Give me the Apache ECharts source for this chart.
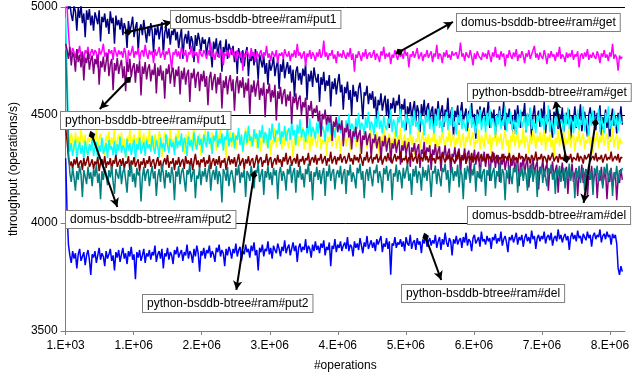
<!DOCTYPE html>
<html>
<head>
<meta charset="utf-8">
<script src="https://cdn.jsdelivr.net/npm/echarts@6/dist/echarts.min.js"></script>
<style>
    html, body {margin: 0; padding: 0; background: #fff;}
    #chart {width: 632px; height: 379px;}
</style>
</head>
<body>
<div id="chart"></div>
<script>
// one sample every 20500 operations, starting at 1000
var opsStart = 1000;
var opsStep = 20500;

var domusPut1 = [
    5100, 5040, 4990, 5020, 4965, 4935, 5005, 4980, 4890, 4995, 4950, 5010, 4925, 4970, 4860, 4985, 4940, 4990, 4915, 4960,
    4890, 4975, 4950, 4920, 4985, 4840, 4955, 4930, 4970, 4905, 4945, 4875, 4980, 4925, 4950, 4830, 4960, 4915, 4940, 4895,
    4950, 4870, 4925, 4900, 4810, 4935, 4885, 4915, 4955, 4860, 4905, 4930, 4795, 4895, 4920, 4870, 4940, 4885, 4835, 4910,
    4865, 4925, 4890, 4790, 4905, 4870, 4915, 4850, 4895, 4930, 4780, 4880, 4910, 4855, 4900, 4825, 4890, 4870, 4920, 4845,
    4885, 4810, 4860, 4900, 4760, 4850, 4875, 4830, 4890, 4805, 4865, 4840, 4745, 4870, 4820, 4880, 4845, 4795, 4860, 4830,
    4850, 4775, 4830, 4860, 4790, 4720, 4840, 4805, 4855, 4770, 4825, 4845, 4700, 4815, 4790, 4850, 4760, 4830, 4805, 4780,
    4820, 4745, 4795, 4690, 4810, 4770, 4740, 4800, 4725, 4785, 4815, 4680, 4775, 4750, 4790, 4730, 4805, 4760, 4665, 4780,
    4750, 4720, 4775, 4690, 4740, 4640, 4755, 4705, 4730, 4770, 4680, 4725, 4750, 4620, 4735, 4700, 4760, 4670, 4715, 4745,
    4690, 4730, 4650, 4710, 4585, 4700, 4725, 4660, 4695, 4640, 4715, 4680, 4735, 4570, 4690, 4655, 4705, 4630, 4720, 4675,
    4650, 4690, 4560, 4675, 4640, 4700, 4610, 4660, 4635, 4685, 4540, 4655, 4620, 4670, 4595, 4650, 4690, 4605, 4640, 4525,
    4630, 4600, 4655, 4570, 4615, 4500, 4640, 4585, 4610, 4560, 4625, 4650, 4575, 4480, 4605, 4590, 4635, 4550, 4600, 4570,
    4610, 4530, 4585, 4470, 4570, 4545, 4600, 4520, 4560, 4590, 4500, 4575, 4440, 4555, 4530, 4580, 4510, 4565, 4545, 4595,
    4490, 4550, 4525, 4575, 4430, 4540, 4505, 4560, 4485, 4530, 4565, 4470, 4545, 4515, 4420, 4550, 4500, 4570, 4480, 4535,
    4555, 4460, 4520, 4540, 4410, 4530, 4495, 4565, 4475, 4515, 4545, 4445, 4525, 4500, 4580, 4465, 4510, 4535, 4400, 4520,
    4490, 4545, 4455, 4515, 4560, 4470, 4500, 4530, 4425, 4520, 4485, 4555, 4460, 4505, 4390, 4525, 4480, 4540, 4465, 4510,
    4535, 4450, 4500, 4570, 4440, 4515, 4480, 4525, 4395, 4505, 4470, 4540, 4455, 4490, 4560, 4430, 4510, 4475, 4530, 4460,
    4500, 4410, 4525, 4465, 4545, 4480, 4440, 4515, 4495, 4555, 4420, 4505, 4470, 4530, 4385, 4500, 4545, 4460, 4490, 4520,
    4445, 4530, 4480, 4560, 4415, 4500, 4470, 4525, 4450, 4395, 4515, 4485, 4545, 4435, 4505, 4465, 4535, 4420, 4490, 4510,
    4460, 4525, 4380, 4495, 4470, 4540, 4440, 4505, 4480, 4550, 4425, 4490, 4515, 4455, 4400, 4500, 4535, 4465, 4485, 4520,
    4430, 4510, 4475, 4545, 4405, 4490, 4460, 4525, 4440, 4500, 4375, 4485, 4530, 4450, 4495, 4415, 4510, 4470, 4540, 4455
];
var domusGet = [
    5080, 5000, 4880, 4800, 4780, 4810, 4790, 4765, 4805, 4785, 4820, 4770, 4795, 4745, 4800, 4785, 4815, 4760, 4790, 4805,
    4775, 4800, 4790, 4720, 4810, 4780, 4795, 4830, 4770, 4790, 4760, 4805, 4785, 4800, 4755, 4815, 4790, 4770, 4800, 4780,
    4795, 4765, 4810, 4785, 4700, 4800, 4775, 4790, 4820, 4765, 4795, 4780, 4810, 4750, 4790, 4800, 4770, 4825, 4785, 4760,
    4800, 4780, 4795, 4740, 4805, 4775, 4790, 4815, 4765, 4785, 4800, 4755, 4795, 4780, 4810, 4770, 4710, 4790, 4780, 4805,
    4770, 4795, 4760, 4815, 4785, 4775, 4800, 4745, 4790, 4780, 4820, 4765, 4795, 4775, 4790, 4740, 4805, 4780, 4770, 4800,
    4785, 4760, 4800, 4775, 4835, 4770, 4790, 4755, 4795, 4780, 4765, 4805, 4790, 4730, 4785, 4775, 4800, 4765, 4790, 4810,
    4775, 4790, 4750, 4800, 4780, 4765, 4795, 4705, 4785, 4770, 4800, 4780, 4760, 4810, 4775, 4790, 4745, 4795, 4770, 4785,
    4800, 4760, 4790, 4775, 4820, 4765, 4785, 4750, 4795, 4780, 4770, 4800, 4740, 4785, 4775, 4790, 4760, 4805, 4780, 4770,
    4795, 4750, 4785, 4770, 4800, 4765, 4830, 4775, 4790, 4760, 4780, 4795, 4725, 4785, 4770, 4800, 4760, 4790, 4775, 4750,
    4790, 4770, 4805, 4765, 4780, 4845, 4770, 4790, 4755, 4785, 4775, 4800, 4760, 4780, 4740, 4795, 4770, 4785, 4765, 4800,
    4775, 4760, 4790, 4770, 4810, 4755, 4785, 4700, 4780, 4765, 4795, 4775, 4750, 4790, 4770, 4805, 4760, 4780, 4790, 4765,
    4780, 4800, 4755, 4785, 4770, 4745, 4795, 4775, 4815, 4760, 4785, 4770, 4790, 4735, 4780, 4765, 4800, 4775, 4755, 4790,
    4770, 4785, 4760, 4805, 4775, 4790, 4720, 4780, 4770, 4795, 4765, 4785, 4810, 4760, 4775, 4790, 4750, 4780, 4770, 4800,
    4765, 4780, 4795, 4745, 4785, 4770, 4825, 4760, 4785, 4775, 4740, 4790, 4770, 4800, 4765, 4780, 4755, 4795, 4775, 4770,
    4790, 4760, 4780, 4835, 4770, 4785, 4750, 4790, 4775, 4765, 4800, 4770, 4730, 4785, 4760, 4795, 4775, 4780, 4755, 4790,
    4770, 4785, 4760, 4800, 4775, 4745, 4790, 4770, 4815, 4765, 4780, 4755, 4795, 4770, 4785, 4725, 4780, 4765, 4800, 4775,
    4760, 4790, 4770, 4805, 4750, 4780, 4765, 4795, 4775, 4740, 4785, 4770, 4800, 4760, 4780, 4775, 4820, 4765, 4785, 4755,
    4790, 4770, 4760, 4800, 4775, 4735, 4785, 4765, 4795, 4770, 4780, 4750, 4790, 4770, 4815, 4760, 4780, 4770, 4745, 4790,
    4765, 4785, 4770, 4800, 4755, 4780, 4770, 4795, 4720, 4775, 4785, 4760, 4790, 4770, 4805, 4755, 4780, 4765, 4790, 4770,
    4760, 4795, 4775, 4740, 4785, 4770, 4800, 4765, 4780, 4750, 4790, 4770, 4830, 4760, 4780, 4765, 4705, 4775, 4760, 4770
];
var domusPut2 = [
    4480, 4450, 4400, 4360, 4415, 4385, 4335, 4420, 4370, 4400, 4345, 4430, 4390, 4360, 4410, 4320, 4395, 4375, 4425, 4350,
    4400, 4370, 4435, 4340, 4390, 4415, 4355, 4380, 4310, 4405, 4375, 4425, 4350, 4395, 4365, 4440, 4335, 4385, 4410, 4360,
    4420, 4345, 4390, 4300, 4400, 4375, 4430, 4355, 4385, 4410, 4340, 4395, 4365, 4445, 4350, 4380, 4415, 4325, 4400, 4370,
    4435, 4360, 4390, 4340, 4410, 4380, 4350, 4425, 4395, 4305, 4385, 4420, 4365, 4400, 4345, 4430, 4375, 4390, 4335, 4415,
    4370, 4440, 4355, 4395, 4380, 4320, 4410, 4365, 4425, 4385, 4350, 4400, 4440, 4340, 4390, 4370, 4415, 4310, 4395, 4375,
    4430, 4360, 4385, 4405, 4345, 4420, 4375, 4395, 4335, 4410, 4365, 4445, 4355, 4390, 4380, 4300, 4405, 4370, 4425, 4350,
    4395, 4415, 4340, 4385, 4430, 4365, 4400, 4325, 4390, 4440, 4360, 4380, 4410, 4350, 4395, 4375, 4435, 4345, 4385, 4405,
    4330, 4400, 4370, 4425, 4355, 4390, 4415, 4315, 4385, 4365, 4440, 4350, 4395, 4380, 4420, 4340, 4400, 4360, 4430, 4375,
    4345, 4410, 4385, 4305, 4395, 4365, 4425, 4355, 4400, 4380, 4445, 4340, 4390, 4370, 4415, 4330, 4405, 4360, 4435, 4385,
    4350, 4395, 4420, 4340, 4385, 4365, 4430, 4310, 4400, 4375, 4415, 4355, 4390, 4440, 4345, 4380, 4405, 4325, 4395, 4370,
    4425, 4355, 4390, 4410, 4335, 4400, 4370, 4445, 4350, 4385, 4415, 4320, 4395, 4365, 4430, 4375, 4345, 4405, 4380, 4435,
    4340, 4390, 4360, 4420, 4385, 4305, 4400, 4370, 4440, 4355, 4395, 4380, 4415, 4345, 4390, 4365, 4425, 4335, 4405, 4375,
    4440, 4350, 4385, 4410, 4330, 4395, 4370, 4430, 4360, 4400, 4315, 4390, 4375, 4445, 4345, 4385, 4420, 4355, 4400, 4365,
    4410, 4340, 4395, 4380, 4435, 4350, 4390, 4320, 4405, 4370, 4425, 4385, 4345, 4400, 4375, 4440, 4355, 4390, 4410, 4330,
    4395, 4365, 4430, 4350, 4385, 4415, 4305, 4400, 4375, 4440, 4360, 4390, 4420, 4345, 4385, 4370, 4435, 4340, 4405, 4380,
    4350, 4425, 4390, 4365, 4410, 4325, 4395, 4380, 4445, 4355, 4400, 4370, 4415, 4340, 4390, 4430, 4360, 4385, 4310, 4405,
    4375, 4435, 4355, 4395, 4420, 4345, 4385, 4370, 4440, 4350, 4400, 4380, 4325, 4410, 4365, 4430, 4390, 4345, 4405, 4375,
    4420, 4360, 4390, 4440, 4335, 4400, 4375, 4415, 4350, 4385, 4305, 4395, 4370, 4435, 4355, 4400, 4380, 4425, 4345, 4390,
    4365, 4445, 4350, 4395, 4410, 4330, 4400, 4375, 4430, 4360, 4390, 4415, 4340, 4385, 4370, 4440, 4355, 4400, 4320, 4395,
    4380, 4425, 4345, 4405, 4370, 4435, 4360, 4390, 4415, 4335, 4400, 4375, 4445, 4350, 4390, 4410, 4340, 4395, 4365, 4380
];
var domusDel = [
    4950, 4700, 4420, 4330, 4370, 4310, 4355, 4385, 4300, 4345, 4375, 4320, 4360, 4290, 4380, 4340, 4315, 4365, 4335, 4390,
    4310, 4350, 4375, 4285, 4360, 4330, 4395, 4320, 4345, 4370, 4300, 4385, 4340, 4355, 4315, 4380, 4295, 4365, 4335, 4400,
    4325, 4360, 4345, 4305, 4390, 4335, 4370, 4315, 4355, 4385, 4290, 4365, 4340, 4395, 4320, 4350, 4375, 4310, 4385, 4345,
    4365, 4330, 4405, 4350, 4320, 4385, 4355, 4300, 4395, 4345, 4370, 4330, 4410, 4360, 4325, 4390, 4350, 4375, 4315, 4400,
    4345, 4380, 4360, 4415, 4330, 4395, 4370, 4310, 4400, 4355, 4385, 4335, 4420, 4365, 4340, 4405, 4360, 4390, 4325, 4410,
    4375, 4350, 4425, 4365, 4395, 4320, 4405, 4380, 4430, 4350, 4390, 4370, 4415, 4335, 4400, 4385, 4440, 4355, 4395, 4375,
    4420, 4345, 4405, 4385, 4440, 4360, 4410, 4330, 4395, 4425, 4370, 4450, 4380, 4400, 4355, 4435, 4390, 4415, 4345, 4430,
    4395, 4455, 4370, 4420, 4405, 4345, 4440, 4385, 4460, 4400, 4375, 4430, 4410, 4465, 4365, 4425, 4395, 4450, 4380, 4420,
    4440, 4385, 4470, 4405, 4430, 4360, 4455, 4415, 4480, 4395, 4435, 4420, 4375, 4460, 4410, 4485, 4400, 4445, 4425, 4390,
    4465, 4415, 4490, 4405, 4450, 4430, 4375, 4470, 4420, 4495, 4410, 4455, 4435, 4395, 4480, 4425, 4500, 4415, 4460, 4440,
    4400, 4475, 4430, 4505, 4420, 4460, 4445, 4390, 4485, 4435, 4510, 4425, 4465, 4450, 4410, 4490, 4440, 4515, 4430, 4470,
    4455, 4405, 4495, 4445, 4520, 4435, 4475, 4415, 4500, 4450, 4430, 4485, 4460, 4525, 4420, 4480, 4455, 4400, 4490, 4465,
    4530, 4440, 4475, 4425, 4505, 4460, 4485, 4410, 4495, 4450, 4520, 4445, 4470, 4430, 4510, 4455, 4480, 4405, 4500, 4465,
    4525, 4435, 4490, 4460, 4415, 4505, 4450, 4530, 4440, 4475, 4420, 4495, 4465, 4515, 4430, 4485, 4455, 4535, 4445, 4470,
    4410, 4500, 4460, 4520, 4435, 4480, 4450, 4425, 4510, 4465, 4540, 4440, 4490, 4455, 4415, 4505, 4460, 4525, 4430, 4475,
    4495, 4420, 4510, 4450, 4530, 4440, 4485, 4465, 4405, 4500, 4455, 4520, 4435, 4475, 4450, 4540, 4425, 4490, 4460, 4515,
    4430, 4480, 4455, 4410, 4505, 4445, 4525, 4440, 4470, 4495, 4420, 4510, 4450, 4535, 4435, 4480, 4460, 4415, 4500, 4470,
    4520, 4445, 4485, 4430, 4505, 4455, 4545, 4420, 4475, 4460, 4410, 4495, 4450, 4530, 4440, 4480, 4465, 4425, 4510, 4455,
    4535, 4435, 4490, 4470, 4415, 4500, 4445, 4525, 4430, 4475, 4455, 4540, 4425, 4485, 4460, 4405, 4505, 4450, 4520, 4440,
    4480, 4460, 4530, 4420, 4495, 4450, 4415, 4510, 4465, 4540, 4435, 4475, 4455, 4520, 4445, 4490, 4425, 4505, 4460, 4470
];
var pythonPut1 = [
    4830, 4800, 4760, 4815, 4730, 4790, 4770, 4700, 4805, 4745, 4780, 4720, 4790, 4660, 4765, 4740, 4795, 4710, 4755, 4775,
    4690, 4760, 4735, 4780, 4640, 4750, 4720, 4770, 4700, 4745, 4785, 4680, 4735, 4760, 4615, 4740, 4705, 4765, 4690, 4730,
    4755, 4670, 4725, 4610, 4745, 4700, 4760, 4675, 4720, 4740, 4650, 4735, 4695, 4750, 4590, 4725, 4690, 4745, 4665, 4715,
    4735, 4655, 4710, 4685, 4740, 4600, 4720, 4680, 4730, 4660, 4705, 4575, 4715, 4690, 4735, 4645, 4700, 4720, 4630, 4710,
    4680, 4725, 4595, 4705, 4665, 4720, 4640, 4690, 4710, 4560, 4695, 4670, 4715, 4625, 4685, 4700, 4610, 4690, 4655, 4705,
    4630, 4680, 4545, 4670, 4700, 4615, 4665, 4690, 4600, 4675, 4640, 4695, 4530, 4660, 4625, 4680, 4595, 4655, 4685, 4610,
    4665, 4520, 4645, 4680, 4600, 4660, 4625, 4675, 4580, 4650, 4610, 4670, 4505, 4640, 4605, 4660, 4585, 4635, 4665, 4570,
    4625, 4590, 4650, 4490, 4620, 4600, 4645, 4560, 4615, 4580, 4640, 4475, 4610, 4575, 4630, 4550, 4600, 4620, 4540, 4595,
    4565, 4610, 4460, 4585, 4555, 4600, 4525, 4575, 4590, 4500, 4560, 4535, 4580, 4440, 4545, 4520, 4565, 4485, 4530, 4510,
    4545, 4470, 4520, 4400, 4505, 4480, 4525, 4455, 4495, 4465, 4500, 4380, 4470, 4445, 4490, 4420, 4460, 4430, 4475, 4355,
    4440, 4420, 4460, 4395, 4435, 4340, 4425, 4400, 4445, 4375, 4410, 4430, 4320, 4405, 4385, 4425, 4360, 4395, 4415, 4300,
    4390, 4370, 4410, 4345, 4385, 4400, 4290, 4380, 4355, 4405, 4330, 4375, 4395, 4280, 4370, 4345, 4390, 4325, 4365, 4385,
    4270, 4360, 4335, 4380, 4315, 4355, 4375, 4260, 4350, 4330, 4370, 4305, 4345, 4365, 4255, 4340, 4320, 4375, 4300, 4350,
    4330, 4360, 4245, 4340, 4315, 4365, 4295, 4335, 4355, 4240, 4330, 4310, 4360, 4290, 4325, 4345, 4230, 4320, 4305, 4350,
    4285, 4325, 4345, 4225, 4315, 4300, 4345, 4275, 4320, 4335, 4215, 4310, 4290, 4340, 4270, 4315, 4330, 4205, 4305, 4285,
    4330, 4260, 4310, 4320, 4195, 4300, 4280, 4325, 4255, 4300, 4315, 4190, 4295, 4270, 4320, 4245, 4290, 4310, 4180, 4285,
    4265, 4310, 4240, 4285, 4300, 4170, 4280, 4260, 4305, 4230, 4275, 4295, 4165, 4270, 4250, 4300, 4225, 4265, 4285, 4155,
    4260, 4240, 4295, 4215, 4255, 4275, 4150, 4250, 4230, 4285, 4205, 4245, 4270, 4140, 4240, 4225, 4280, 4195, 4240, 4260,
    4135, 4235, 4215, 4275, 4190, 4230, 4255, 4125, 4225, 4205, 4270, 4185, 4225, 4250, 4120, 4220, 4200, 4265, 4180, 4220,
    4245, 4115, 4215, 4195, 4260, 4175, 4215, 4240, 4110, 4210, 4190, 4255, 4170, 4210, 4235, 4105, 4205, 4185, 4250, 4200
];
var pythonGet = [
    4440, 4380, 4300, 4265, 4285, 4250, 4295, 4270, 4305, 4255, 4280, 4290, 4245, 4300, 4265, 4285, 4310, 4260, 4275, 4295,
    4250, 4285, 4270, 4305, 4240, 4280, 4295, 4265, 4310, 4255, 4285, 4270, 4300, 4245, 4290, 4275, 4315, 4260, 4280, 4295,
    4265, 4300, 4250, 4285, 4275, 4310, 4245, 4290, 4270, 4305, 4260, 4280, 4295, 4240, 4285, 4270, 4300, 4255, 4290, 4275,
    4310, 4260, 4285, 4295, 4250, 4280, 4305, 4265, 4290, 4240, 4280, 4300, 4270, 4315, 4255, 4285, 4275, 4300, 4245, 4290,
    4270, 4305, 4260, 4285, 4295, 4250, 4310, 4275, 4290, 4265, 4300, 4245, 4285, 4320, 4270, 4290, 4255, 4295, 4280, 4305,
    4260, 4290, 4275, 4315, 4250, 4285, 4300, 4265, 4295, 4270, 4310, 4255, 4290, 4280, 4300, 4245, 4285, 4310, 4270, 4295,
    4275, 4305, 4260, 4290, 4320, 4265, 4285, 4300, 4250, 4295, 4275, 4310, 4265, 4290, 4300, 4255, 4285, 4315, 4270, 4295,
    4305, 4260, 4290, 4280, 4320, 4265, 4295, 4305, 4255, 4285, 4300, 4270, 4315, 4280, 4295, 4260, 4305, 4285, 4325, 4270,
    4295, 4310, 4265, 4290, 4300, 4275, 4320, 4260, 4295, 4285, 4310, 4270, 4300, 4290, 4325, 4265, 4295, 4305, 4280, 4315,
    4270, 4300, 4290, 4320, 4275, 4295, 4310, 4265, 4300, 4285, 4330, 4275, 4295, 4310, 4270, 4305, 4290, 4320, 4280, 4300,
    4310, 4275, 4295, 4325, 4285, 4300, 4270, 4315, 4290, 4305, 4280, 4320, 4295, 4265, 4305, 4290, 4330, 4280, 4300, 4310,
    4275, 4305, 4295, 4320, 4280, 4300, 4315, 4270, 4295, 4310, 4285, 4325, 4290, 4305, 4275, 4300, 4320, 4285, 4310, 4295,
    4330, 4280, 4300, 4290, 4315, 4270, 4305, 4295, 4325, 4285, 4300, 4310, 4275, 4320, 4295, 4305, 4285, 4330, 4290, 4310,
    4280, 4305, 4320, 4290, 4300, 4275, 4315, 4295, 4310, 4285, 4325, 4300, 4280, 4310, 4295, 4320, 4285, 4305, 4300, 4275,
    4315, 4295, 4330, 4285, 4305, 4290, 4320, 4275, 4300, 4310, 4290, 4325, 4280, 4305, 4295, 4315, 4285, 4300, 4320, 4290,
    4305, 4280, 4320, 4295, 4310, 4285, 4330, 4290, 4300, 4315, 4275, 4305, 4295, 4320, 4285, 4310, 4300, 4290, 4325, 4280,
    4300, 4315, 4290, 4305, 4280, 4325, 4295, 4310, 4300, 4285, 4320, 4290, 4305, 4275, 4315, 4300, 4290, 4330, 4285, 4305,
    4295, 4320, 4285, 4310, 4300, 4275, 4315, 4290, 4305, 4325, 4285, 4300, 4310, 4280, 4320, 4295, 4305, 4290, 4330, 4285,
    4310, 4295, 4320, 4280, 4305, 4300, 4290, 4325, 4285, 4310, 4300, 4275, 4315, 4295, 4305, 4320, 4285, 4300, 4310, 4290,
    4325, 4285, 4305, 4295, 4315, 4280, 4300, 4320, 4290, 4305, 4295, 4330, 4285, 4300, 4310, 4290, 4320, 4280, 4305, 4300
];
var pythonPut2 = [
    4800, 4600, 4330, 4230, 4190, 4255, 4210, 4150, 4240, 4200, 4265, 4225, 4120, 4245, 4215, 4180, 4260, 4205, 4235, 4170,
    4250, 4215, 4270, 4185, 4230, 4110, 4240, 4200, 4260, 4220, 4175, 4245, 4210, 4265, 4190, 4135, 4250, 4225, 4205, 4270,
    4180, 4235, 4255, 4200, 4140, 4245, 4215, 4275, 4190, 4230, 4165, 4255, 4220, 4240, 4100, 4210, 4260, 4195, 4235, 4250,
    4170, 4225, 4265, 4205, 4240, 4125, 4215, 4250, 4190, 4270, 4230, 4160, 4245, 4210, 4235, 4185, 4260, 4220, 4105, 4240,
    4215, 4265, 4180, 4235, 4255, 4200, 4145, 4245, 4225, 4270, 4190, 4230, 4250, 4115, 4220, 4205, 4260, 4175, 4240, 4215,
    4255, 4190, 4235, 4270, 4150, 4225, 4245, 4200, 4265, 4180, 4240, 4215, 4095, 4250, 4230, 4195, 4260, 4170, 4225, 4245,
    4205, 4140, 4255, 4220, 4270, 4185, 4235, 4210, 4250, 4120, 4240, 4225, 4195, 4265, 4215, 4160, 4245, 4230, 4275, 4190,
    4225, 4250, 4130, 4240, 4210, 4265, 4200, 4235, 4175, 4255, 4220, 4245, 4110, 4230, 4260, 4195, 4240, 4215, 4150, 4250,
    4225, 4270, 4185, 4235, 4255, 4140, 4245, 4210, 4265, 4200, 4230, 4165, 4250, 4225, 4275, 4190, 4240, 4105, 4235, 4215,
    4260, 4200, 4245, 4180, 4230, 4255, 4125, 4240, 4215, 4270, 4195, 4235, 4250, 4155, 4225, 4245, 4210, 4265, 4180, 4230,
    4250, 4135, 4245, 4220, 4270, 4190, 4235, 4210, 4160, 4255, 4230, 4275, 4200, 4240, 4115, 4225, 4250, 4195, 4260, 4215,
    4170, 4245, 4230, 4270, 4185, 4240, 4210, 4140, 4255, 4225, 4265, 4195, 4235, 4250, 4105, 4230, 4215, 4270, 4190, 4245,
    4225, 4160, 4255, 4205, 4240, 4275, 4195, 4230, 4130, 4250, 4215, 4265, 4185, 4240, 4225, 4150, 4260, 4210, 4245, 4195,
    4270, 4220, 4120, 4240, 4230, 4265, 4180, 4250, 4215, 4170, 4255, 4235, 4275, 4200, 4245, 4140, 4230, 4260, 4195, 4240,
    4215, 4270, 4165, 4245, 4225, 4110, 4255, 4200, 4265, 4235, 4185, 4250, 4220, 4275, 4145, 4240, 4210, 4260, 4190, 4235,
    4250, 4125, 4245, 4220, 4270, 4195, 4235, 4255, 4160, 4240, 4215, 4280, 4185, 4250, 4230, 4105, 4245, 4205, 4265, 4220,
    4180, 4255, 4235, 4270, 4140, 4240, 4215, 4260, 4195, 4245, 4225, 4150, 4255, 4210, 4275, 4190, 4235, 4250, 4120, 4240,
    4225, 4265, 4185, 4245, 4210, 4170, 4255, 4235, 4270, 4200, 4240, 4135, 4250, 4220, 4265, 4190, 4230, 4255, 4160, 4245,
    4215, 4275, 4195, 4240, 4225, 4115, 4250, 4210, 4265, 4185, 4235, 4255, 4150, 4245, 4220, 4270, 4200, 4240, 4130, 4255,
    4230, 4265, 4190, 4245, 4215, 4160, 4260, 4225, 4275, 4195, 4240, 4250, 4125, 4235, 4210, 4265, 4185, 4245, 4230, 4255
];
var pythonDel = [
    4300, 4050, 3900, 3850, 3815, 3870, 3835, 3860, 3790, 3855, 3880, 3825, 3845, 3865, 3805, 3850, 3875, 3830, 3760, 3855,
    3840, 3870, 3815, 3850, 3885, 3830, 3860, 3845, 3800, 3870, 3835, 3855, 3880, 3825, 3850, 3780, 3865, 3840, 3875, 3820,
    3855, 3885, 3835, 3860, 3810, 3870, 3845, 3890, 3830, 3855, 3740, 3865, 3840, 3875, 3825, 3850, 3880, 3815, 3860, 3845,
    3875, 3830, 3865, 3850, 3895, 3820, 3855, 3870, 3835, 3880, 3790, 3860, 3845, 3885, 3830, 3865, 3850, 3810, 3875, 3855,
    3890, 3840, 3860, 3875, 3825, 3865, 3850, 3900, 3835, 3870, 3855, 3815, 3880, 3845, 3895, 3860, 3775, 3870, 3850, 3885,
    3835, 3875, 3860, 3895, 3840, 3870, 3855, 3820, 3885, 3865, 3900, 3845, 3875, 3860, 3800, 3880, 3850, 3890, 3870, 3835,
    3880, 3860, 3905, 3845, 3875, 3890, 3825, 3870, 3855, 3900, 3865, 3880, 3840, 3895, 3870, 3910, 3850, 3875, 3780, 3885,
    3865, 3900, 3845, 3880, 3870, 3915, 3855, 3885, 3835, 3895, 3875, 3860, 3905, 3880, 3845, 3890, 3870, 3920, 3860, 3885,
    3900, 3850, 3880, 3910, 3870, 3895, 3820, 3885, 3905, 3865, 3890, 3875, 3925, 3860, 3895, 3880, 3840, 3900, 3870, 3915,
    3875, 3895, 3860, 3905, 3885, 3920, 3850, 3890, 3875, 3910, 3800, 3895, 3880, 3925, 3865, 3900, 3885, 3915, 3870, 3895,
    3910, 3880, 3935, 3870, 3900, 3890, 3845, 3915, 3885, 3905, 3875, 3930, 3895, 3860, 3910, 3890, 3940, 3880, 3900, 3920,
    3885, 3910, 3870, 3925, 3900, 3895, 3940, 3865, 3905, 3890, 3930, 3880, 3915, 3760, 3905, 3895, 3935, 3885, 3910, 3900,
    3925, 3890, 3915, 3870, 3935, 3905, 3895, 3945, 3880, 3910, 3920, 3875, 3930, 3900, 3915, 3860, 3925, 3905, 3950, 3890,
    3915, 3930, 3895, 3920, 3905, 3945, 3885, 3915, 3935, 3875, 3925, 3900, 3955, 3910, 3890, 3930, 3915, 3850, 3925, 3905,
    3940, 3900, 3920, 3930, 3885, 3935, 3910, 3955, 3895, 3925, 3915, 3870, 3930, 3945, 3905, 3920, 3935, 3890, 3960, 3915,
    3925, 3900, 3940, 3915, 3930, 3880, 3935, 3920, 3950, 3905, 3930, 3915, 3960, 3895, 3925, 3940, 3910, 3865, 3935, 3920,
    3945, 3910, 3930, 3955, 3900, 3935, 3920, 3945, 3890, 3930, 3950, 3915, 3935, 3905, 3965, 3925, 3940, 3880, 3930, 3945,
    3915, 3940, 3925, 3960, 3905, 3935, 3945, 3920, 3955, 3895, 3930, 3940, 3915, 3970, 3925, 3945, 3910, 3935, 3950, 3920,
    3940, 3875, 3935, 3955, 3925, 3945, 3915, 3965, 3930, 3940, 3905, 3950, 3935, 3920, 3960, 3930, 3945, 3890, 3940, 3955,
    3925, 3945, 3935, 3970, 3910, 3940, 3950, 3925, 3960, 3935, 3945, 3900, 3950, 3930, 3945, 3905, 3790, 3760, 3800, 3775
];

var seriesNames = [
    'domus-bsddb-btree#ram#put1', 'domus-bsddb-btree#ram#get',
    'domus-bsddb-btree#ram#put2', 'domus-bsddb-btree#ram#del',
    'python-bsddb-btree#ram#put1', 'python-bsddb-btree#ram#get',
    'python-bsddb-btree#ram#put2', 'python-bsddb-btree#ram#del'
];
var seriesValues = [domusPut1, domusGet, domusPut2, domusDel, pythonPut1, pythonGet, pythonPut2, pythonDel];
var seriesColors = ['#000080', '#ff00ff', '#ffff00', '#00ffff', '#800080', '#800000', '#008080', '#0000ff'];

// callouts: arrow from a point on the series to its label, label box top-left in px
var callouts = [
    {name: 'domus-bsddb-btree#ram#put1', from: [917000, 4884], to: [1563000, 4931], box: [170, 10]},
    {name: 'domus-bsddb-btree#ram#get', from: [4903000, 4792], to: [5692000, 4931], box: [456, 13]},
    {name: 'python-bsddb-btree#ram#get', from: [7355000, 4296], to: [7197000, 4569], box: [467, 83]},
    {name: 'domus-bsddb-btree#ram#del', from: [7785000, 4463], to: [7613000, 4093], box: [467, 206]},
    {name: 'python-bsddb-btree#ram#put1', from: [917000, 4662], to: [502000, 4528], box: [60, 111]},
    {name: 'domus-bsddb-btree#ram#put2', from: [387000, 4407], to: [760000, 4074], box: [65, 210]},
    {name: 'python-bsddb-btree#ram#put2', from: [2767000, 4222], to: [2509000, 3690], box: [142, 294]},
    {name: 'python-bsddb-btree#ram#del', from: [5290000, 3935], to: [5520000, 3736], box: [401, 284]}
];

var font = '"Liberation Sans", Arial, sans-serif';
var myChart = echarts.init(document.getElementById('chart'));

var series = [];
seriesValues.forEach(function (values, s) {
    var points = values.map(function (v, i) {
        return [opsStart + i * opsStep, v];
    });
    series.push({
        name: seriesNames[s],
        type: 'line',
        data: points,
        showSymbol: false,
        symbol: 'none',
        lineStyle: {width: 1.5, color: seriesColors[s]},
        itemStyle: {color: seriesColors[s]},
        silent: true
    });
});

series.push({
    type: 'line',
    data: [],
    silent: true,
    z: 5,
    markLine: {
        silent: true,
        symbol: ['diamond', 'arrow'],
        symbolSize: [7, 9],
        label: {show: false},
        lineStyle: {color: '#000', width: 2, type: 'solid'},
        data: callouts.map(function (c) {
            return [{coord: c.from}, {coord: c.to}];
        })
    }
});

var graphics = callouts.map(function (c) {
    return {
        type: 'text',
        left: c.box[0],
        top: c.box[1],
        z: 100,
        style: {
            text: c.name,
            font: '12px ' + font,
            fill: '#000',
            backgroundColor: '#fff',
            borderColor: '#808080',
            borderWidth: 1,
            padding: [3, 4, 2, 4]
        }
    };
});

var option = {
    animation: false,
    backgroundColor: '#fff',
    grid: {left: 58, right: 1, top: 7, bottom: 48},
    xAxis: {
        type: 'value',
        min: 0,
        max: 8220000,
        interval: 1000000,
        name: '#operations',
        nameLocation: 'middle',
        nameGap: 29,
        nameTextStyle: {fontFamily: font, fontSize: 12, color: '#000'},
        axisLine: {lineStyle: {color: '#808080', width: 1}},
        axisTick: {length: 4, lineStyle: {color: '#808080'}},
        axisLabel: {
            fontFamily: font, fontSize: 12, color: '#000', margin: 9,
            showMaxLabel: false,
            formatter: function (v) {
                if (v === 0) {
                    return '1.E+03';
                }
                if (v % 1000000 !== 0) {
                    return '';
                }
                return (v / 1000000) + '.E+06';
            }
        },
        splitLine: {show: false}
    },
    yAxis: {
        type: 'value',
        min: 3500,
        max: 5000,
        interval: 500,
        name: 'throughput (operations/s)',
        nameLocation: 'middle',
        nameGap: 40,
        nameTextStyle: {fontFamily: font, fontSize: 12, color: '#000'},
        axisLine: {show: true, lineStyle: {color: '#808080', width: 1}},
        axisTick: {show: true, length: 5, lineStyle: {color: '#808080'}},
        axisLabel: {
            fontFamily: font, fontSize: 12, color: '#000', margin: 8,
            formatter: function (v) {
                return String(v);
            }
        },
        splitLine: {show: true, lineStyle: {color: '#000', width: 1}}
    },
    graphic: graphics,
    series: series
};
myChart.setOption(option);
</script>
</body>
</html>
